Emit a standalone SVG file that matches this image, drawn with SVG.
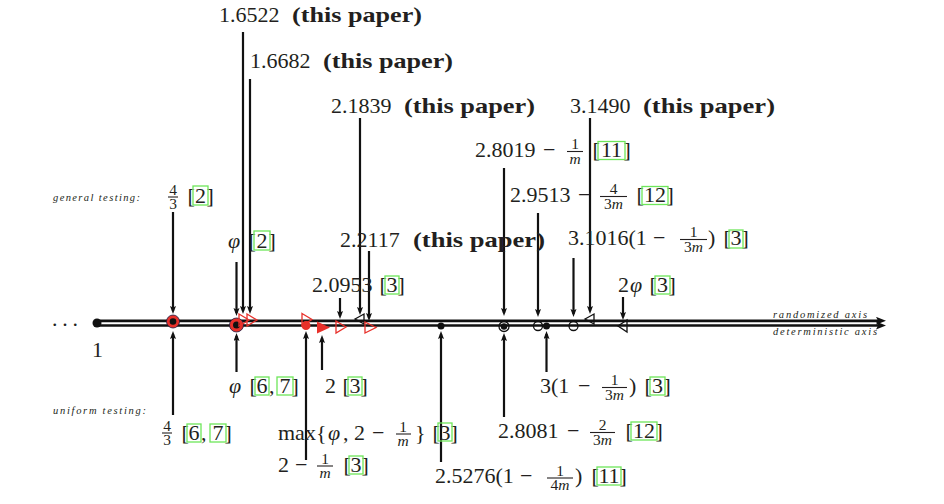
<svg xmlns="http://www.w3.org/2000/svg" width="944" height="504" viewBox="0 0 944 504">
<defs>
<style>
.t{font-family:'Liberation Serif',serif;font-size:22px;fill:#231f20}
.b{font-weight:bold}
.i{font-style:italic}
.fr{font-family:'Liberation Serif',serif;font-size:15.5px;fill:#231f20}
.sm{font-family:'Liberation Serif',serif;font-style:italic;font-size:10.5px;fill:#231f20}
.box{fill:none;stroke:#6ee65a;stroke-width:1.3}
.bar{stroke:#231f20;stroke-width:1.1}
.ar{stroke:#111;stroke-width:2.2;fill:none}
.ax{stroke:#111;fill:none}
.ro{fill:none;stroke:#e8302a;stroke-width:1.3}
.rf{fill:#e8302a}
.ko{fill:none;stroke:#111;stroke-width:1.3}
.kd{fill:#111}
</style>
<marker id="ah" markerUnits="userSpaceOnUse" markerWidth="9" markerHeight="7" refX="5" refY="3" orient="auto">
<path d="M0,0 L8,3 L0,6 L1.5,3 z" fill="#111"/>
</marker>
<marker id="axh" markerUnits="userSpaceOnUse" markerWidth="11" markerHeight="9" refX="4" refY="4" orient="auto">
<path d="M0,0 L10,4 L0,8 L2,4 z" fill="#111"/>
</marker>
</defs>
<rect width="944" height="504" fill="#fff"/>

<g id="axis">
<line class="ax" x1="97" y1="320.8" x2="880" y2="320.8" stroke-width="2.8" marker-end="url(#axh)"/>
<line class="ax" x1="97" y1="325.4" x2="880" y2="325.4" stroke-width="2.5" marker-end="url(#axh)"/>
<text class="sm" x="773" y="318" textLength="94">randomized axis</text>
<text class="sm" x="773" y="335" textLength="104">deterministic axis</text>
<text class="t" x="52" y="326" textLength="26">. . .</text>
</g>

<g id="labels-side">
<text class="sm" x="53" y="201" textLength="87">general testing:</text>
<text class="sm" x="53" y="414" textLength="93">uniform testing:</text>
</g>

<g id="connectors">
<line class="ar" x1="173" y1="212" x2="173" y2="311" marker-end="url(#ah)"/>
<line class="ar" x1="236.5" y1="262" x2="236.5" y2="313" marker-end="url(#ah)"/>
<line class="ar" x1="243" y1="32" x2="243" y2="311" marker-end="url(#ah)"/>
<line class="ar" x1="250" y1="79" x2="250" y2="311" marker-end="url(#ah)"/>
<line class="ar" x1="340" y1="298" x2="340" y2="316" marker-end="url(#ah)"/>
<line class="ar" x1="360" y1="118" x2="360" y2="312" marker-end="url(#ah)"/>
<line class="ar" x1="369" y1="251" x2="369" y2="318" marker-end="url(#ah)"/>
<line class="ar" x1="504" y1="168" x2="504" y2="313" marker-end="url(#ah)"/>
<line class="ar" x1="538" y1="213" x2="538" y2="314" marker-end="url(#ah)"/>
<line class="ar" x1="573.5" y1="258" x2="573.5" y2="314" marker-end="url(#ah)"/>
<line class="ar" x1="590" y1="118" x2="590" y2="311" marker-end="url(#ah)"/>
<line class="ar" x1="623" y1="297" x2="623" y2="317" marker-end="url(#ah)"/>
<line class="ar" x1="173" y1="415" x2="173" y2="334" marker-end="url(#ah)"/>
<line class="ar" x1="236.5" y1="372" x2="236.5" y2="336" marker-end="url(#ah)"/>
<line class="ar" x1="306" y1="460" x2="306" y2="334" marker-end="url(#ah)"/>
<line class="ar" x1="322" y1="370" x2="322" y2="338" marker-end="url(#ah)"/>
<line class="ar" x1="441" y1="462" x2="441" y2="334" marker-end="url(#ah)"/>
<line class="ar" x1="504" y1="417" x2="504" y2="336" marker-end="url(#ah)"/>
<line class="ar" x1="546.5" y1="372" x2="546.5" y2="334" marker-end="url(#ah)"/>
</g>

<g id="n-one">
<circle class="kd" cx="97" cy="323" r="4.5"/>
<text class="t" x="97.5" y="357" text-anchor="middle">1</text>
</g>

<g id="n-4-3-general">
<circle cx="173" cy="321.5" r="6.5" fill="#e8302a" stroke="#1a1a40" stroke-width="0.8"/>
<circle class="kd" cx="173" cy="321.5" r="3.3"/>
<text class="fr" x="173" y="194.5" text-anchor="middle">4</text>
<line class="bar" x1="168" y1="197" x2="178" y2="197"/>
<text class="fr" x="173" y="209" text-anchor="middle">3</text>
<text class="t" y="203"><tspan x="187.5">[</tspan><tspan x="200.5" text-anchor="middle">2</tspan><tspan x="206.5">]</tspan></text>
<rect class="box" x="193" y="186" width="15" height="19"/>
</g>

<g id="n-phi-general">
<text class="t i" x="228" y="248">φ</text>
<text class="t" y="248"><tspan x="248.5">[</tspan><tspan x="262" text-anchor="middle">2</tspan><tspan x="268.5">]</tspan></text>
<rect class="box" x="254" y="231" width="16" height="19"/>
</g>

<g id="n-phi-uniform">
<circle cx="236.5" cy="325" r="7" fill="#e8302a" stroke="#1a1a40" stroke-width="0.8"/>
<circle class="kd" cx="236.5" cy="325" r="3.5"/>
<text class="t i" x="229" y="393">φ</text>
<text class="t" y="393"><tspan x="249.5">[</tspan><tspan x="262" text-anchor="middle">6</tspan><tspan x="269">,</tspan><tspan x="285" text-anchor="middle">7</tspan><tspan x="291.5">]</tspan></text>
<rect class="box" x="255" y="377" width="14" height="18"/>
<rect class="box" x="277" y="377" width="16" height="18"/>
</g>

<g id="n-4-3-uniform">
<text class="fr" x="167" y="430.5" text-anchor="middle">4</text>
<line class="bar" x1="162" y1="433" x2="172" y2="433"/>
<text class="fr" x="167" y="445" text-anchor="middle">3</text>
<text class="t" y="440"><tspan x="181.5">[</tspan><tspan x="194" text-anchor="middle">6</tspan><tspan x="201">,</tspan><tspan x="218" text-anchor="middle">7</tspan><tspan x="224.5">]</tspan></text>
<rect class="box" x="187" y="424" width="14" height="18"/>
<rect class="box" x="210" y="424" width="16" height="18"/>
</g>

<g id="n-16522">
<polygon class="ro" points="239,314 249,320 239,326"/>
<text class="t" x="219" y="22">1.6522</text>
<text class="t b" x="292" y="22" textLength="130" lengthAdjust="spacingAndGlyphs">(this paper)</text>
</g>

<g id="n-16682">
<polygon class="ro" points="247,314 257,320 247,326"/>
<text class="t" x="250" y="68">1.6682</text>
<text class="t b" x="323" y="68" textLength="130" lengthAdjust="spacingAndGlyphs">(this paper)</text>
</g>

<g id="n-2-1m">
<polygon class="ro" points="302,313.5 312,319.5 302,325.5"/>
<circle class="rf" cx="306" cy="325.5" r="4.5"/>
<text class="t" x="278" y="472">2</text>
<text class="t" x="295" y="472">−</text>
<text class="fr" x="325" y="463.5" text-anchor="middle">1</text>
<line class="bar" x1="317" y1="466" x2="333" y2="466"/>
<text class="fr i" x="325" y="478" text-anchor="middle">m</text>
<text class="t" y="472"><tspan x="343.5">[</tspan><tspan x="356" text-anchor="middle">3</tspan><tspan x="361.5">]</tspan></text>
<rect class="box" x="349" y="456" width="14" height="18"/>
</g>

<g id="n-max">
<text class="t" x="278" y="440">max{</text>
<text class="t i" x="328" y="440">φ</text>
<text class="t" x="343" y="440">,</text>
<text class="t" x="354" y="440">2</text>
<text class="t" x="372" y="440">−</text>
<text class="fr" x="403" y="431.5" text-anchor="middle">1</text>
<line class="bar" x1="396" y1="434" x2="411" y2="434"/>
<text class="fr i" x="403" y="446" text-anchor="middle">m</text>
<text class="t" x="415" y="440">}</text>
<text class="t" y="440"><tspan x="432.5">[</tspan><tspan x="445" text-anchor="middle">3</tspan><tspan x="450.5">]</tspan></text>
<rect class="box" x="438" y="423" width="14" height="18"/>
</g>

<g id="n-2">
<polygon class="rf" points="317,321.5 330,327.5 317,333.5"/>
<text class="t" x="325" y="393">2</text>
<text class="t" y="393"><tspan x="342.5">[</tspan><tspan x="355" text-anchor="middle">3</tspan><tspan x="360.5">]</tspan></text>
<rect class="box" x="348" y="377" width="14" height="18"/>
</g>

<g id="n-20953">
<polygon class="ro" points="336,321 346,327 336,333"/>
<text class="t" x="312" y="292">2.0953</text>
<text class="t" y="292"><tspan x="379.5">[</tspan><tspan x="392" text-anchor="middle">3</tspan><tspan x="397.5">]</tspan></text>
<rect class="box" x="385" y="276" width="14" height="18"/>
</g>

<g id="n-21839">
<polygon class="ko" points="355,319 364,314 364,324"/>
<text class="t" x="331" y="113">2.1839</text>
<text class="t b" x="404" y="113" textLength="131" lengthAdjust="spacingAndGlyphs">(this paper)</text>
</g>

<g id="n-22117">
<polygon class="ro" points="365,322 376,327.5 365,333"/>
<text class="t" x="340" y="247">2.2117</text>
<text class="t b" x="413" y="247" textLength="132" lengthAdjust="spacingAndGlyphs">(this paper)</text>
</g>

<g id="n-25276">
<circle class="kd" cx="441" cy="326" r="3.5"/>
<text class="t" x="435" y="483">2.5276(1</text>
<text class="t" x="520" y="483">−</text>
<text class="fr" x="560" y="475.5" text-anchor="middle">1</text>
<line class="bar" x1="547" y1="478" x2="573" y2="478"/>
<text class="fr" x="560" y="490" text-anchor="middle">4<tspan class="i">m</tspan></text>
<text class="t" x="575" y="483">)</text>
<text class="t" y="483"><tspan x="591.5">[</tspan><tspan x="609" text-anchor="middle">11</tspan><tspan x="619.5">]</tspan></text>
<rect class="box" x="597" y="467" width="24" height="18"/>
</g>

<g id="n-28019">
<circle class="ko" cx="504" cy="326.5" r="5" fill="#fff"/>
<circle class="kd" cx="504" cy="326.5" r="3.2"/>
<text class="t" x="475" y="157">2.8019</text>
<text class="t" x="543" y="157">−</text>
<text class="fr" x="575" y="149" text-anchor="middle">1</text>
<line class="bar" x1="567" y1="151.5" x2="583" y2="151.5"/>
<text class="fr i" x="575" y="163.5" text-anchor="middle">m</text>
<text class="t" y="157"><tspan x="592.5">[</tspan><tspan x="611.5" text-anchor="middle">11</tspan><tspan x="623.5">]</tspan></text>
<rect class="box" x="598" y="141.5" width="27" height="18"/>
</g>

<g id="n-28081">
<text class="t" x="498" y="438">2.8081</text>
<text class="t" x="567" y="438">−</text>
<text class="fr" x="602.5" y="430" text-anchor="middle">2</text>
<line class="bar" x1="590" y1="432.5" x2="615" y2="432.5"/>
<text class="fr" x="602.5" y="444.5" text-anchor="middle">3<tspan class="i">m</tspan></text>
<text class="t" y="438"><tspan x="625.5">[</tspan><tspan x="644" text-anchor="middle">12</tspan><tspan x="655.5">]</tspan></text>
<rect class="box" x="631" y="422" width="26" height="18"/>
</g>

<g id="n-29513">
<circle class="ko" cx="538" cy="326" r="4.5" fill="#fff" stroke-width="1.5"/>
<text class="t" x="510" y="202">2.9513</text>
<text class="t" x="578" y="202">−</text>
<text class="fr" x="613.5" y="194" text-anchor="middle">4</text>
<line class="bar" x1="600" y1="196.5" x2="627" y2="196.5"/>
<text class="fr" x="613.5" y="208.5" text-anchor="middle">3<tspan class="i">m</tspan></text>
<text class="t" y="202"><tspan x="636.5">[</tspan><tspan x="655" text-anchor="middle">12</tspan><tspan x="666.5">]</tspan></text>
<rect class="box" x="642" y="186.5" width="26" height="18"/>
</g>

<g id="n-3-13m">
<circle class="kd" cx="546.5" cy="326" r="3.5"/>
<text class="t" x="540" y="393">3(1</text>
<text class="t" x="578" y="393">−</text>
<text class="fr" x="614.5" y="385" text-anchor="middle">1</text>
<line class="bar" x1="602" y1="387.5" x2="627" y2="387.5"/>
<text class="fr" x="614.5" y="399.5" text-anchor="middle">3<tspan class="i">m</tspan></text>
<text class="t" x="629" y="393">)</text>
<text class="t" y="393"><tspan x="644.5">[</tspan><tspan x="657.5" text-anchor="middle">3</tspan><tspan x="663.5">]</tspan></text>
<rect class="box" x="650" y="377" width="15" height="18"/>
</g>

<g id="n-31016">
<circle class="ko" cx="573.5" cy="326" r="4.5" fill="#fff" stroke-width="1.5"/>
<text class="t" x="568" y="245">3.1016(1</text>
<text class="t" x="653" y="245">−</text>
<text class="fr" x="693.5" y="237" text-anchor="middle">1</text>
<line class="bar" x1="680" y1="239.5" x2="707" y2="239.5"/>
<text class="fr" x="693.5" y="251.5" text-anchor="middle">3<tspan class="i">m</tspan></text>
<text class="t" x="708" y="245">)</text>
<text class="t" y="245"><tspan x="723.5">[</tspan><tspan x="736" text-anchor="middle">3</tspan><tspan x="741.5">]</tspan></text>
<rect class="box" x="729" y="230" width="14" height="18"/>
</g>

<g id="n-31490">
<polygon class="ko" points="585,319 594,314 594,324"/>
<text class="t" x="570" y="113">3.1490</text>
<text class="t b" x="643" y="113" textLength="132" lengthAdjust="spacingAndGlyphs">(this paper)</text>
</g>

<g id="n-2phi">
<polygon class="ko" points="618,326 627,320 627,332"/>
<text class="t" x="618" y="292">2</text>
<text class="t i" x="630" y="292">φ</text>
<text class="t" y="292"><tspan x="649.5">[</tspan><tspan x="662.5" text-anchor="middle">3</tspan><tspan x="668.5">]</tspan></text>
<rect class="box" x="655" y="276" width="15" height="18"/>
</g>
</svg>
